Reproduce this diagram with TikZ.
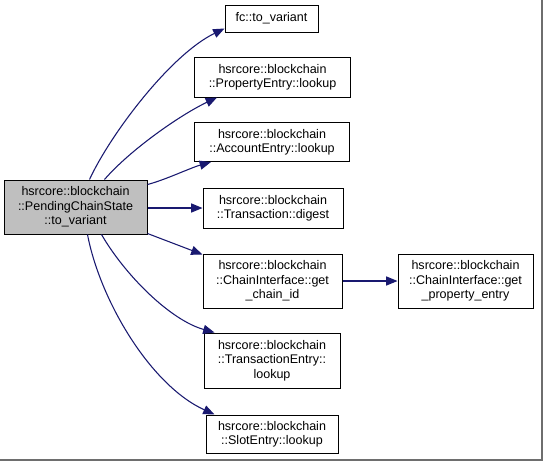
\documentclass[tikz,border=0pt]{standalone}
\usepackage{fontspec}
\setmainfont{Liberation Sans}
\usetikzlibrary{arrows.meta}
\definecolor{edgeblue}{HTML}{191970}
\definecolor{mainfill}{HTML}{BFBFBF}
\definecolor{framegray}{HTML}{6E6E6E}
\begin{document}
\begin{tikzpicture}[x=0.75pt,y=-0.75pt,
  fn/.style={draw=black,line width=0.75pt,fill=white,inner sep=0pt,align=center,
    font=\fontsize{9.4pt}{10.8pt}\selectfont},
  mainfn/.style={fn,fill=mainfill},
  call/.style={draw=edgeblue,line width=0.8pt,-{Triangle[length=8.5pt,width=6.8pt]}}]
\useasboundingbox[fill=white] (0,0) rectangle (543,461);
\draw[framegray,line width=1.2pt] (0,460) -- (542,460) -- (542,0);
\node[mainfn,minimum width=143*0.75pt,minimum height=54*0.75pt] (main) at (75.5,207) {hsrcore::blockchain\\::PendingChainState\\::to\_variant};
\node[fn,minimum width=93*0.75pt,minimum height=27*0.75pt] (fc) at (271.5,18.5) {fc::to\_variant};
\node[fn,minimum width=156*0.75pt,minimum height=40*0.75pt] (prop) at (272.5,77) {hsrcore::blockchain\\::PropertyEntry::lookup};
\node[fn,minimum width=155*0.75pt,minimum height=39*0.75pt] (acct) at (272,142) {hsrcore::blockchain\\::AccountEntry::lookup};
\node[fn,minimum width=140*0.75pt,minimum height=40*0.75pt] (dig) at (273,208) {hsrcore::blockchain\\::Transaction::digest};
\node[fn,minimum width=139*0.75pt,minimum height=54*0.75pt] (cid) at (272.5,281) {hsrcore::blockchain\\::ChainInterface::get\\\_chain\_id};
\node[fn,minimum width=135*0.75pt,minimum height=54*0.75pt] (gpe) at (465.5,281) {hsrcore::blockchain\\::ChainInterface::get\\\_property\_entry};
\node[fn,minimum width=136*0.75pt,minimum height=55*0.75pt] (tent) at (272,360.5) {hsrcore::blockchain\\::TransactionEntry::\\lookup};
\node[fn,minimum width=132*0.75pt,minimum height=38*0.75pt] (slot) at (272,434) {hsrcore::blockchain\\::SlotEntry::lookup};
% start/end points
\path (main.north west) ++(86,0) coordinate (s1);
\path (main.north west) ++(101,0) coordinate (s2);
\path (main.north east) ++(0,5) coordinate (s3);
\path (main.south east) ++(0,-1) coordinate (s5);
\path (main.south west) ++(98,0) coordinate (s6);
\path (main.south west) ++(84,0) coordinate (s7);
\path (fc.south west) ++(0,-4) coordinate (e1);
\path (prop.south west) ++(23,0) coordinate (e2);
\path (acct.south west) ++(17,0) coordinate (e3);
\path (cid.north west) ++(0,1) coordinate (e5);
\path (tent.north west) ++(11,0) coordinate (e6);
\path (slot.north west) ++(9,0) coordinate (e7);
\draw[call] (s1) .. controls (110,135) and (170,55) .. (e1);
\draw[call] (s2) .. controls (130,150) and (180,115) .. (e2);
\draw[call] (s3) .. controls (165,180) and (190,168) .. (e3);
\draw[call] (main.east |- dig.west) -- (dig.west);
\draw[call] (s5) -- (e5);
\draw[call] (cid) -- (gpe);
\draw[call] (s6) .. controls (125,275) and (170,320) .. (e6);
\draw[call] (s7) .. controls (100,300) and (150,385) .. (e7);
\end{tikzpicture}
\end{document}
